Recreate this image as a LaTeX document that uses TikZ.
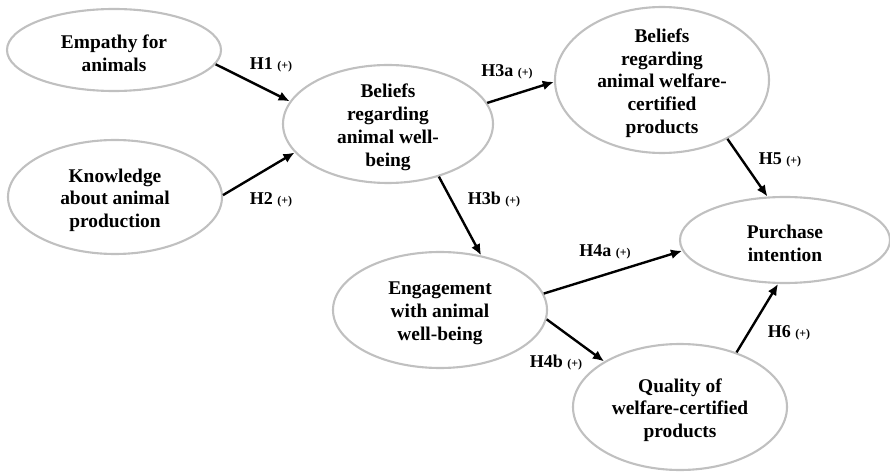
\documentclass[tikz,border=0pt]{standalone}
\usepackage{fontspec}
\setmainfont{Liberation Serif}
\usepackage{xcolor}
\definecolor{ovalgray}{RGB}{192,192,192}
\usetikzlibrary{arrows.meta,positioning,shapes.geometric}

\begin{document}
\begin{tikzpicture}[
    construct/.style={ellipse, draw=ovalgray, line width=1.5pt, inner sep=0pt, minimum width=5.35cm},
    ctext/.style={align=center, inner sep=0pt, yshift=-0.08cm, font=\fontsize{13.8}{16.2}\selectfont\bfseries},
    hyparrow/.style={-{Latex[length=8pt,width=7pt]}, line width=1.7pt, black},
    hyp/.style={inner sep=0pt, font=\fontsize{12.8}{14}\selectfont\bfseries}
  ]
  \useasboundingbox (0,0) rectangle (22.25,11.8);
  % Antecedents
  \node[construct, minimum height=2.05cm, label={[ctext]center:Empathy for\\animals}] (emp) at (2.85,10.55) {};
  \node[construct, minimum height=2.85cm, label={[ctext]center:Knowledge\\about animal\\production}] (know) at (2.875,6.875) {};
  % Beliefs
  \node[construct, minimum width=5.25cm, minimum height=2.95cm, label={[ctext]center:Beliefs\\regarding\\animal well-\\being}] (bwb) at (9.70,8.70) {};
  \node[construct, minimum height=3.65cm, label={[ctext]center:Beliefs\\regarding\\animal welfare-\\certified\\products}] (bcert) at (16.55,9.80) {};
  % Engagement and quality
  \node[construct, minimum height=2.90cm, label={[ctext]center:Engagement\\with animal\\well-being}] (eng) at (11.00,4.05) {};
  \node[construct, minimum height=3.15cm, label={[ctext]center:Quality of\\welfare-certified\\products}] (qual) at (17.00,1.625) {};
  % Outcome
  \node[construct, minimum width=5.25cm, minimum height=2.15cm, label={[ctext]center:Purchase\\intention}] (pi) at (19.625,5.80) {};
  % Arrows
  \draw[hyparrow] (emp.-8) -- (bwb.167);
  \draw[hyparrow] (know.1) -- (bwb.197);
  \draw[hyparrow] (bwb.12) -- (bcert.181);
  \draw[hyparrow] (bwb.-46) -- (eng.53);
  \draw[hyparrow] (bcert.-42) -- (pi.112);
  \draw[hyparrow] (eng.9) -- (pi.186);
  \draw[hyparrow] (eng.-5) -- (qual.149);
  \draw[hyparrow] (qual.44) -- (pi.261);
  % Hypotheses
  \node[hyp] (h1) at (6.775,10.175) {H1 {\fontsize{8.5}{10}\selectfont (+)}};
  \node[hyp] (h2) at (6.775,6.80) {H2 {\fontsize{8.5}{10}\selectfont (+)}};
  \node[hyp] (h3a) at (12.675,10.00) {H3a {\fontsize{8.5}{10}\selectfont (+)}};
  \node[hyp] (h3b) at (12.35,6.80) {H3b {\fontsize{8.5}{10}\selectfont (+)}};
  \node[hyp] (h5) at (19.50,7.80) {H5 {\fontsize{8.5}{10}\selectfont (+)}};
  \node[hyp] (h4a) at (15.125,5.50) {H4a {\fontsize{8.5}{10}\selectfont (+)}};
  \node[hyp] (h4b) at (13.90,2.725) {H4b {\fontsize{8.5}{10}\selectfont (+)}};
  \node[hyp] (h6) at (19.725,3.475) {H6 {\fontsize{8.5}{10}\selectfont (+)}};
\end{tikzpicture}
\end{document}
